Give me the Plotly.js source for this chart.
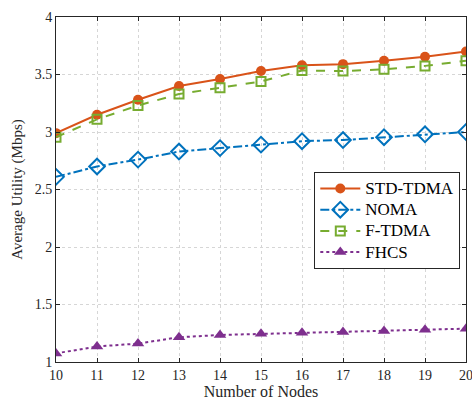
<!DOCTYPE html>
<html>
<head>
<meta charset="utf-8">
<script src="https://cdn.plot.ly/plotly-3.0.1.min.js"></script>
<style>
  html, body { margin: 0; padding: 0; background: #fff; }
  #chart { width: 472px; height: 401px; }
</style>
</head>
<body>
<div id="chart"></div>
<script>
// Number of nodes on the x axis
const nodes = [10, 11, 12, 13, 14, 15, 16, 17, 18, 19, 20];

// Average utility (Mbps) for each scheme
const stdTdma = [2.99, 3.15, 3.28, 3.40, 3.46, 3.53, 3.58, 3.59, 3.62, 3.655, 3.70];
const noma    = [2.61, 2.70, 2.76, 2.83, 2.86, 2.89, 2.92, 2.93, 2.955, 2.98, 3.00];
const fTdma   = [2.955, 3.11, 3.23, 3.33, 3.385, 3.44, 3.535, 3.53, 3.545, 3.575, 3.62];
const fhcs    = [1.075, 1.135, 1.16, 1.215, 1.235, 1.245, 1.255, 1.26, 1.27, 1.28, 1.29];

const seriesNames = ['STD-TDMA', 'NOMA', 'F-TDMA', 'FHCS'];

const yTicks = [1, 1.5, 2, 2.5, 3, 3.5, 4];
const yTickText = ['1', '1.5', '2', '2.5', '3', '3.5', '4'];

const serif = 'Liberation Serif, Times New Roman, serif';

// legend rows keep a compact spacing while the label text is set a bit larger
const legendLabel = s => '<span style="font-size:17px">' + s + '</span>';

const traces = [
  {
    x: nodes, y: stdTdma, name: legendLabel(seriesNames[0]), mode: 'lines+markers',
    line: { color: '#D95319', width: 2, dash: 'solid' },
    marker: { symbol: 'circle', size: 10, color: '#D95319' }
  },
  {
    x: nodes, y: noma, name: legendLabel(seriesNames[1]), mode: 'lines+markers',
    line: { color: '#0072BD', width: 2, dash: 'dashdot' },
    marker: { symbol: 'diamond-open', size: 12, color: '#0072BD', line: { width: 2, color: '#0072BD' } }
  },
  {
    x: nodes, y: fTdma, name: legendLabel(seriesNames[2]), mode: 'lines+markers',
    line: { color: '#77AC30', width: 2, dash: 'dash' },
    marker: { symbol: 'square-open', size: 9, color: '#77AC30', line: { width: 2, color: '#77AC30' } }
  },
  {
    x: nodes, y: fhcs, name: legendLabel(seriesNames[3]), mode: 'lines+markers',
    line: { color: '#7E2F8E', width: 2, dash: 'dot' },
    marker: { symbol: 'triangle-up', size: 11, color: '#7E2F8E' }
  }
];

const axisCommon = {
  showline: true, mirror: 'ticks', linecolor: '#262626', linewidth: 1,
  ticks: 'inside', ticklen: 4, tickcolor: '#262626',
  showgrid: true, gridcolor: '#d6d6d6', griddash: 'dot', gridwidth: 1,
  zeroline: false, ticklabeloverflow: 'allow',
  tickfont: { family: serif, size: 14, color: '#262626' }
};

const layout = {
  width: 472, height: 401,
  margin: { l: 55.5, r: 6, t: 17, b: 39 },
  paper_bgcolor: '#ffffff', plot_bgcolor: '#ffffff',
  font: { family: serif, color: '#262626' },
  xaxis: Object.assign({}, axisCommon, {
    range: [10, 20], tickmode: 'array', tickvals: nodes, ticktext: nodes.map(String),
    title: { text: 'Number of Nodes', font: { family: serif, size: 16, color: '#262626' }, standoff: 3 }
  }),
  yaxis: Object.assign({}, axisCommon, {
    range: [1, 4], tickmode: 'array', tickvals: yTicks, ticktext: yTickText,
    title: { text: 'Average Utility (Mbps)', font: { family: serif, size: 15, color: '#262626' }, standoff: 8 }
  }),
  showlegend: true,
  legend: {
    x: 0.63, y: 0.551, xanchor: 'left', yanchor: 'top',
    bgcolor: '#ffffff', bordercolor: '#262626', borderwidth: 1,
    font: { family: serif, size: 14, color: '#000000' },
    itemwidth: 40, tracegroupgap: 0
  }
};

Plotly.newPlot('chart', traces, layout, { displayModeBar: false, staticPlot: true });
</script>
</body>
</html>
